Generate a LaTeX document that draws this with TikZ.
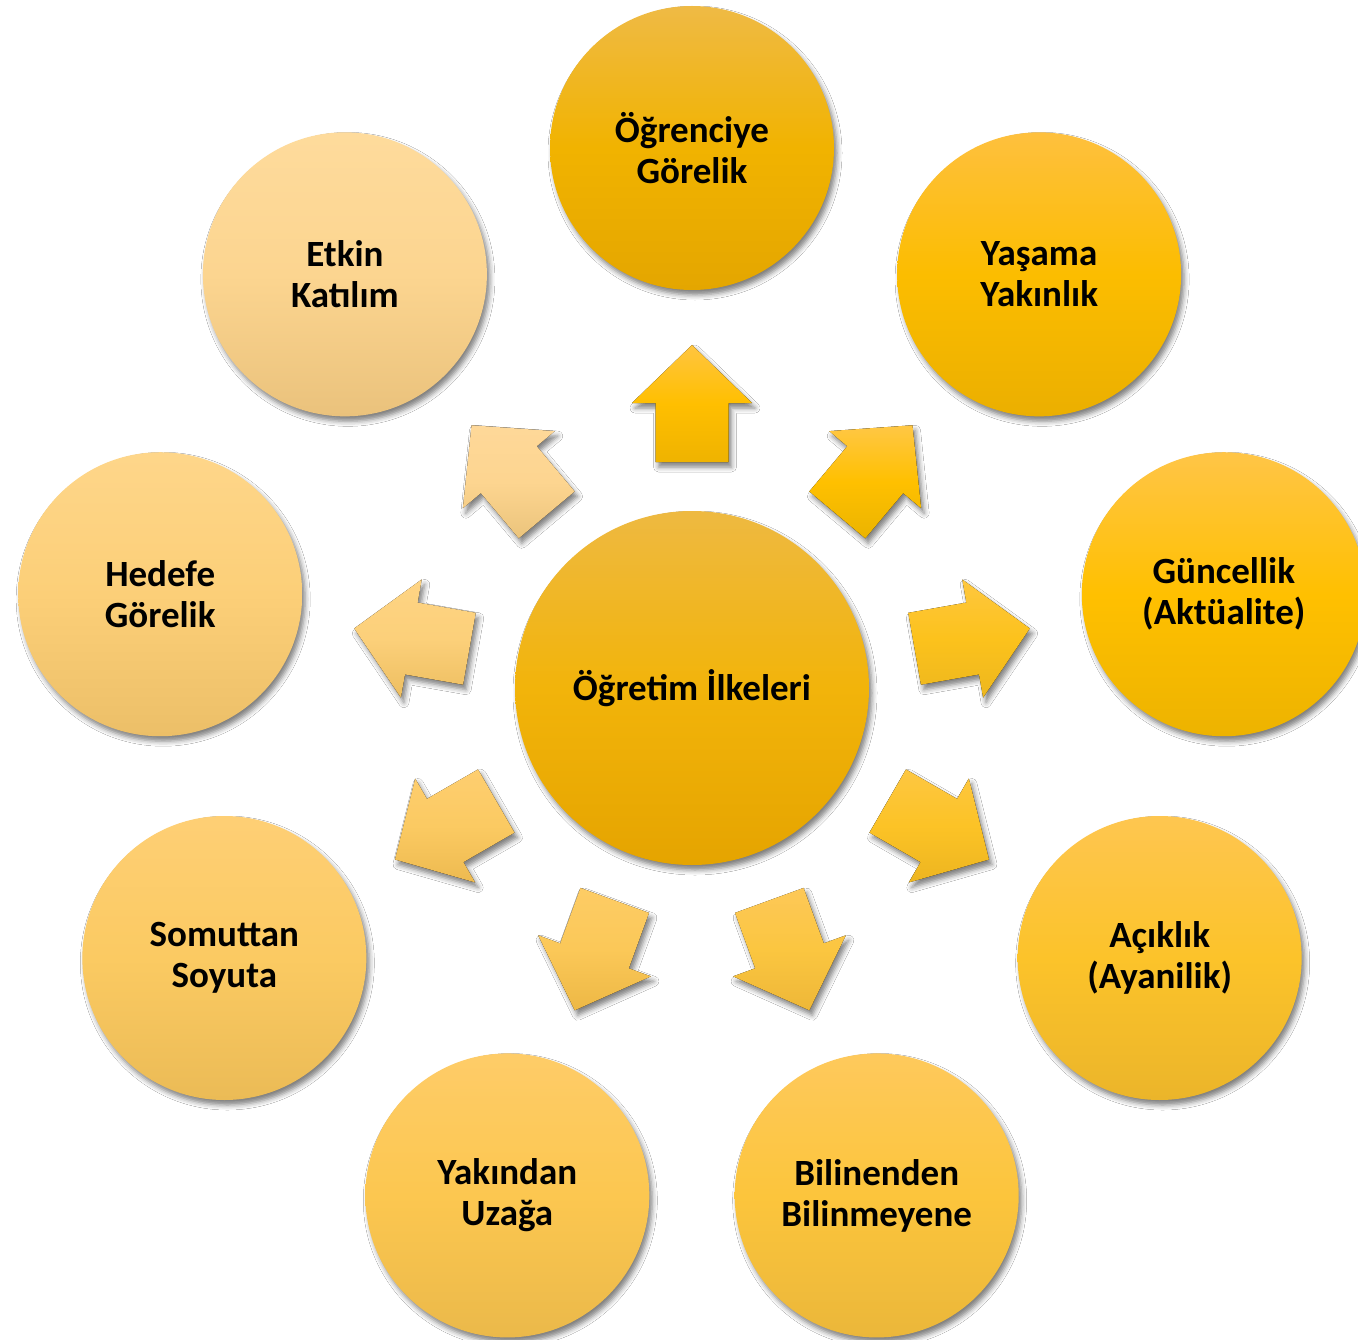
\documentclass[tikz,border=0pt]{standalone}
\usepackage{fontspec}
\setmainfont{Carlito}
\usetikzlibrary{calc,shadows.blur}
\tikzset{
  softshadow/.style={blur shadow={shadow xshift=3pt,shadow yshift=-5pt,shadow blur radius=5pt,shadow opacity=50}},
  bigdisc/.style={circle,inner sep=0pt,minimum size=354pt,softshadow,
    font=\fontsize{37}{41}\selectfont\bfseries,align=center,text=black},
  smalldisc/.style={circle,inner sep=0pt,minimum size=284pt,softshadow,
    font=\fontsize{37}{41}\selectfont\bfseries,align=center,text=black},
  blockarrow/.style={softshadow}
}
\begin{document}
\begin{tikzpicture}[x=1pt,y=1pt]
\useasboundingbox (0,0) rectangle (1358,-1340);
\fill[white] (0,0) rectangle (1358,-1340);
% arrows
\coordinate (c0) at (692,-688);
\foreach \a/\tc/\mc/\bc in {
  90/FFC540/FFBF00/EFB300,
  50/FFC745/FFC000/EBB400,
  10/FEC73F/FCC21C/EDB71E,
  -30/FDC742/FCC326/EDB520,
  -70/FDC858/FBC640/EEB738,
  -110/FDCC65/FBC858/EDB845,
  -150/FECE70/FBCA62/EDBA50,
  170/FED484/FCD07A/EDBE60,
  130/FED899/FDD590/EBC47C}{
  \definecolor{atop}{HTML}{\tc}
  \definecolor{amid}{HTML}{\mc}
  \definecolor{abot}{HTML}{\bc}
  \fill[blockarrow,top color=atop,bottom color=abot,middle color=amid]
    ($(c0)+(\a:226)+({\a-90}:36.5)$) --
    ($(c0)+(\a:285)+({\a-90}:36.5)$) --
    ($(c0)+(\a:285)+({\a-90}:60)$) --
    ($(c0)+(\a:343)$) --
    ($(c0)+(\a:285)+({\a+90}:60)$) --
    ($(c0)+(\a:285)+({\a+90}:36.5)$) --
    ($(c0)+(\a:226)+({\a+90}:36.5)$) -- cycle;
}
% centre
\definecolor{ctop}{HTML}{EEB941}
\definecolor{cmid}{HTML}{F2B40A}
\definecolor{cbot}{HTML}{E5A400}
\node[bigdisc,top color=ctop,bottom color=cbot,middle color=cmid] (c) at (c0) {Öğretim İlkeleri};
% outer circles
\foreach \i/\a/\tc/\mc/\bc/\txt in {
  1/90/EFBA45/F1B300/E4A600/{Öğrenciye\\Görelik},
  2/50/FEC03E/FCBD00/EBAF00/{Yaşama\\Yakınlık},
  3/10/FFC547/FFC000/EDB300/{Güncellik\\(Aktüalite)},
  4/-30/FEC650/FCC32A/EBB52A/{Açıklık\\(Ayanilik)},
  5/-70/FEC95C/FCC53C/EBB73A/{Bilinenden\\Bilinmeyene},
  6/-110/FECC68/FCC750/EBB94A/{Yakından\\Uzağa},
  7/-150/FECF75/FBCA62/EBBB56/{Somuttan\\Soyuta},
  8/170/FED68A/FCCF78/ECBF68/{Hedefe\\Görelik},
  9/130/FEDB9C/FCD590/EAC27C/{Etkin\\Katılım}}{
  \definecolor{otop}{HTML}{\tc}
  \definecolor{omid}{HTML}{\mc}
  \definecolor{obot}{HTML}{\bc}
  \node[smalldisc,top color=otop,bottom color=obot,middle color=omid] (o\i) at ($(c0)+(\a:540)$) {\txt};
}
\end{tikzpicture}
\end{document}
